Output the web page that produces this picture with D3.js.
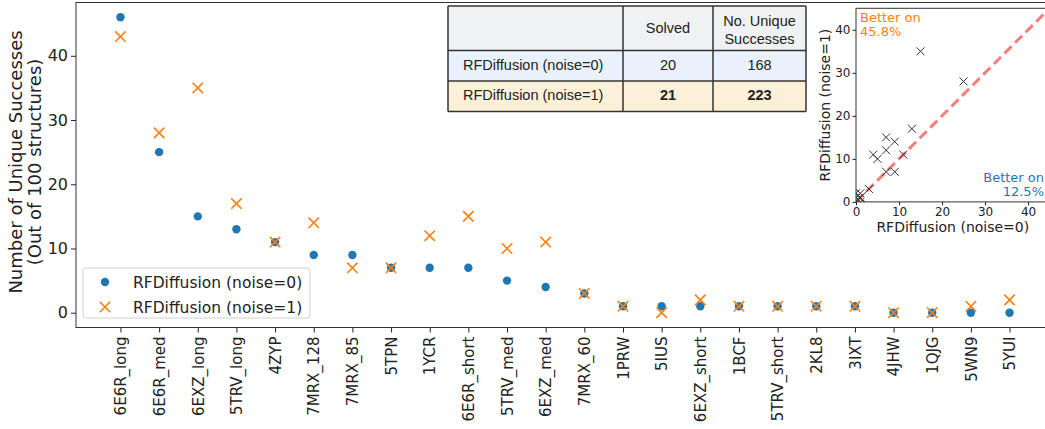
<!DOCTYPE html>
<html>
<head>
<meta charset="utf-8">
<script src="https://cdn.jsdelivr.net/npm/d3@7/dist/d3.min.js"></script>
<style>
  body { margin: 0; background: #fff; }
  svg { display: block; }
</style>
</head>
<body>
<svg id="chart" width="1045" height="429"></svg>
<script>
// Benchmark targets, ordered by number of unique successes
const categories = [
  "6E6R_long", "6E6R_med", "6EXZ_long", "5TRV_long", "4ZYP", "7MRX_128",
  "7MRX_85", "5TPN", "1YCR", "6E6R_short", "5TRV_med", "6EXZ_med",
  "7MRX_60", "1PRW", "5IUS", "6EXZ_short", "1BCF", "5TRV_short",
  "2KL8", "3IXT", "4JHW", "1QJG", "5WN9", "5YUI"
];
// Unique successes out of 100 designs per target
const noise0 = [46, 25, 15, 13, 11, 9, 9, 7, 7, 7, 5, 4, 3, 1, 1, 1, 1, 1, 1, 1, 0, 0, 0, 0];
const noise1 = [43, 28, 35, 17, 11, 14, 7, 7, 12, 15, 10, 11, 3, 1, 0, 2, 1, 1, 1, 1, 0, 0, 1, 2];

const seriesNames = ["RFDiffusion (noise=0)", "RFDiffusion (noise=1)"];
const yTicks = [0, 10, 20, 30, 40];
const insetTicks = [0, 10, 20, 30, 40];
const tableHeader = ["", "Solved", ["No. Unique", "Successes"]];

const BLUE = "#1f77b4", ORANGE = "#ff7f0e";
const MPL_FONT = "'DejaVu Sans', sans-serif";
const TABLE_FONT = "'Liberation Sans', Arial, sans-serif";

const svg = d3.select("#chart");

// ---------- main axes ----------
const plot = { left: 76, right: 1054, top: 2.5, bottom: 327.5 };

const x = d3.scalePoint()
  .domain(categories)
  .range([plot.left, plot.right])
  .padding(1.15);

const y = d3.scaleLinear()
  .domain([-2.3, 48.3])
  .range([plot.bottom, plot.top]);

const main = svg.append("g");

// y axis
const yAxis = main.append("g")
  .attr("transform", `translate(${plot.left},0)`)
  .call(d3.axisLeft(y).tickValues(yTicks).tickSize(5).tickPadding(3));
yAxis.select(".domain").remove();
yAxis.selectAll("line").attr("stroke", "#222").attr("stroke-width", 1);
yAxis.selectAll("text")
  .attr("font-family", MPL_FONT).attr("font-size", 16).attr("fill", "#222");

// x axis with rotated labels
const xAxis = main.append("g")
  .attr("transform", `translate(0,${plot.bottom})`)
  .call(d3.axisBottom(x).tickSize(5).tickPadding(3));
xAxis.select(".domain").remove();
xAxis.selectAll("line").attr("stroke", "#222").attr("stroke-width", 1);
xAxis.selectAll("text")
  .attr("font-family", MPL_FONT).attr("font-size", 15).attr("fill", "#222")
  .attr("text-anchor", "end")
  .attr("transform", "rotate(-90)")
  .attr("x", -9)
  .attr("y", 0)
  .attr("dy", "0.35em");

// frame
main.append("rect")
  .attr("x", plot.left).attr("y", plot.top)
  .attr("width", plot.right - plot.left).attr("height", plot.bottom - plot.top)
  .attr("fill", "none").attr("stroke", "#333").attr("stroke-width", 1);

// y axis title (two lines)
const yTitle = main.append("text")
  .attr("transform", `translate(0,${(plot.top + plot.bottom) / 2 - 3}) rotate(-90)`)
  .attr("text-anchor", "middle")
  .attr("font-family", MPL_FONT).attr("font-size", 18).attr("fill", "#222");
yTitle.append("tspan").attr("x", 0).attr("y", 22).text("Number of Unique Successes");
yTitle.append("tspan").attr("x", 0).attr("y", 41).text("(Out of 100 structures)");

// markers
function xMarker(sel, cx, cy, r, color, sw) {
  sel.append("path")
    .attr("d", `M${cx - r},${cy - r}L${cx + r},${cy + r}M${cx - r},${cy + r}L${cx + r},${cy - r}`)
    .attr("stroke", color).attr("stroke-width", sw).attr("fill", "none");
}

main.append("g").selectAll("circle")
  .data(categories)
  .join("circle")
  .attr("cx", d => x(d))
  .attr("cy", (d, i) => y(noise0[i]))
  .attr("r", 4.2)
  .attr("fill", BLUE);

const xs = main.append("g");
categories.forEach((c, i) => xMarker(xs, x(c), y(noise1[i]), 5.2, ORANGE, 1.6));

// legend
const leg = main.append("g");
leg.append("rect")
  .attr("x", 83).attr("y", 268).attr("width", 227).attr("height", 50)
  .attr("rx", 3).attr("fill", "#fff").attr("fill-opacity", 0.8)
  .attr("stroke", "#d0d0d0").attr("stroke-width", 1);
leg.append("circle").attr("cx", 105).attr("cy", 282).attr("r", 4.2).attr("fill", BLUE);
xMarker(leg, 105, 307, 5.2, ORANGE, 1.6);
seriesNames.forEach((n, i) => {
  leg.append("text")
    .attr("x", 133).attr("y", 287.5 + i * 25)
    .attr("font-family", MPL_FONT).attr("font-size", 15.5).attr("fill", "#222")
    .text(n);
});

// ---------- summary table ----------
const solved = [noise0, noise1].map(s => s.filter(v => v > 0).length);
const totals = [noise0, noise1].map(s => d3.sum(s));
const tableRows = seriesNames.map((n, i) => [n, String(solved[i]), String(totals[i])]);

const tbl = { x: 448, y: 6, cols: [175, 90, 93], rows: [44.5, 30.5, 30.5] };
const rowFills = ["#f0f1f3", "#e9f2fc", "#fdf0d9"];
const colX = [tbl.x];
tbl.cols.forEach(w => colX.push(colX[colX.length - 1] + w));
const rowY = [tbl.y];
tbl.rows.forEach(h => rowY.push(rowY[rowY.length - 1] + h));

const tg = svg.append("g");
rowFills.forEach((f, r) => {
  tg.append("rect")
    .attr("x", colX[0]).attr("y", rowY[r])
    .attr("width", colX[3] - colX[0]).attr("height", rowY[r + 1] - rowY[r])
    .attr("fill", f);
});
// grid lines
rowY.forEach(yy => tg.append("line")
  .attr("x1", colX[0]).attr("x2", colX[3]).attr("y1", yy).attr("y2", yy)
  .attr("stroke", "#333").attr("stroke-width", 1.5));
colX.forEach(xx => tg.append("line")
  .attr("x1", xx).attr("x2", xx).attr("y1", rowY[0]).attr("y2", rowY[3])
  .attr("stroke", "#333").attr("stroke-width", 1.5));

// header
tg.append("text")
  .attr("x", (colX[1] + colX[2]) / 2).attr("y", 32.5)
  .attr("text-anchor", "middle")
  .attr("font-family", TABLE_FONT).attr("font-size", 14.5).attr("fill", "#222")
  .text(tableHeader[1]);
const hdrUnique = tg.append("text")
  .attr("text-anchor", "middle")
  .attr("font-family", TABLE_FONT).attr("font-size", 14.5).attr("fill", "#222");
tableHeader[2].forEach((line, i) => hdrUnique.append("tspan")
  .attr("x", (colX[2] + colX[3]) / 2).attr("y", 25.5 + i * 18).text(line));

// body
tableRows.forEach((row, r) => {
  const base = (rowY[r + 1] + rowY[r + 2]) / 2 + 4;
  tg.append("text")
    .attr("x", colX[0] + 15).attr("y", base)
    .attr("font-family", TABLE_FONT).attr("font-size", 14.5).attr("fill", "#222")
    .text(row[0]);
  [1, 2].forEach(c => tg.append("text")
    .attr("x", (colX[c] + colX[c + 1]) / 2).attr("y", base)
    .attr("text-anchor", "middle")
    .attr("font-family", TABLE_FONT).attr("font-size", 14.5).attr("fill", "#222")
    .attr("font-weight", r === 1 ? "bold" : "normal")
    .text(row[c]));
});

// ---------- inset: noise=0 vs noise=1 ----------
const inset = { left: 856, top: 8.3, size: 193.6 };
const ix = d3.scaleLinear().domain([0, 45]).range([0, inset.size]);
const iy = d3.scaleLinear().domain([0, 45]).range([inset.size, 0]);

const ig = svg.append("g").attr("transform", `translate(${inset.left},${inset.top})`);
ig.append("rect").attr("x", 0).attr("y", 0)
  .attr("width", inset.size).attr("height", inset.size).attr("fill", "#fff");

svg.append("defs").append("clipPath").attr("id", "insetClip")
  .append("rect").attr("x", 0).attr("y", 0)
  .attr("width", inset.size).attr("height", inset.size);

const ip = ig.append("g").attr("clip-path", "url(#insetClip)");

// parity line
ip.append("line")
  .attr("x1", ix(0)).attr("y1", iy(0)).attr("x2", ix(45)).attr("y2", iy(45))
  .attr("stroke", "#ff6464").attr("stroke-opacity", 0.85)
  .attr("stroke-width", 3).attr("stroke-dasharray", "10,5");

noise0.forEach((v, i) => xMarker(ip, ix(v), iy(noise1[i]), 4, "#333", 1));

const iyAxis = ig.append("g")
  .call(d3.axisLeft(iy).tickValues(insetTicks).tickSize(3.5).tickPadding(2));
const ixAxis = ig.append("g").attr("transform", `translate(0,${inset.size})`)
  .call(d3.axisBottom(ix).tickValues(insetTicks).tickSize(3.5).tickPadding(2));
[iyAxis, ixAxis].forEach(a => {
  a.select(".domain").remove();
  a.selectAll("line").attr("stroke", "#222");
  a.selectAll("text").attr("font-family", MPL_FONT).attr("font-size", 12).attr("fill", "#222");
});

ig.append("rect").attr("x", 0).attr("y", 0)
  .attr("width", inset.size).attr("height", inset.size)
  .attr("fill", "none").attr("stroke", "#333").attr("stroke-width", 1);

ig.append("text")
  .attr("x", inset.size / 2).attr("y", inset.size + 30)
  .attr("text-anchor", "middle")
  .attr("font-family", MPL_FONT).attr("font-size", 14).attr("fill", "#222")
  .text(seriesNames[0]);
ig.append("text")
  .attr("transform", `translate(-26,${inset.size / 2}) rotate(-90)`)
  .attr("text-anchor", "middle")
  .attr("font-family", MPL_FONT).attr("font-size", 14).attr("fill", "#222")
  .text(seriesNames[1]);

// share of targets where each setting wins
const n = categories.length;
const better1 = noise1.filter((v, i) => v > noise0[i]).length / n * 100;
const better0 = noise0.filter((v, i) => v > noise1[i]).length / n * 100;

const a1 = ig.append("text")
  .attr("font-family", MPL_FONT).attr("font-size", 13).attr("fill", ORANGE);
a1.append("tspan").attr("x", 4).attr("y", 13.5).text("Better on");
a1.append("tspan").attr("x", 4).attr("y", 28).text(better1.toFixed(1) + "%");

const a0 = ig.append("text")
  .attr("text-anchor", "end")
  .attr("font-family", MPL_FONT).attr("font-size", 13).attr("fill", BLUE);
a0.append("tspan").attr("x", 188).attr("y", 173.5).text("Better on");
a0.append("tspan").attr("x", 188).attr("y", 188).text(better0.toFixed(1) + "%");
</script>
</body>
</html>
